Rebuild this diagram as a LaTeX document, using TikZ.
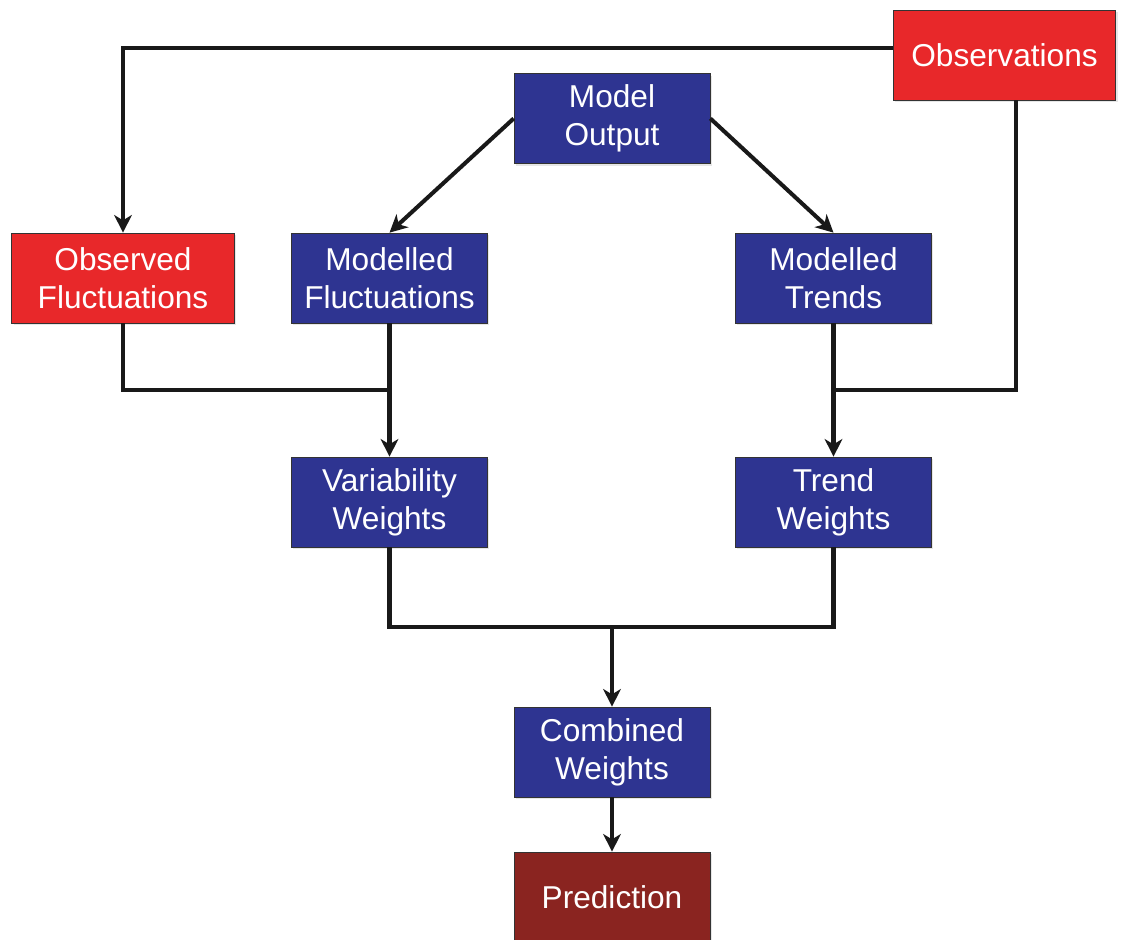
\documentclass[tikz,border=0pt]{standalone}
\usepackage{fontspec}
\setmainfont{Liberation Sans}
\usetikzlibrary{arrows.meta}
\usetikzlibrary{shadows}
\definecolor{boxblue}{RGB}{46,52,145}
\definecolor{boxred}{RGB}{232,40,42}
\definecolor{boxdark}{RGB}{138,36,32}

\begin{document}
\begin{tikzpicture}[x=0.02cm, y=-0.02cm,
    every node/.style={draw=black!80, thin, text=white, align=center,
      minimum width=3.92cm, minimum height=1.8cm, inner sep=0pt,
      font=\fontsize{18}{21.5}\selectfont,
      drop shadow={opacity=0.2, shadow xshift=1pt, shadow yshift=-1.2pt}},
    modbox/.style={fill=boxblue},
    obsbox/.style={fill=boxred, minimum width=4.45cm},
    predbox/.style={fill=boxdark},
    link/.style={line width=2.3pt, black!90},
    arr/.style={link, -{Stealth[length=10pt, width=10pt, inset=3pt]}}]
  \useasboundingbox (0,0) rectangle (1121,939);

  \node[obsbox] (obs) at (1004.5,55) {Observations};
  \node[modbox] (mo) at (612,118.5) {Model\\Output};
  \node[obsbox] (obsfl) at (123,278) {Observed\\Fluctuations};
  \node[modbox] (mfl) at (389.5,278) {Modelled\\Fluctuations};
  \node[modbox] (mtr) at (833.5,278) {Modelled\\Trends};
  \node[modbox] (vw) at (389.5,502) {Variability\\Weights};
  \node[modbox] (tw) at (833.5,502) {Trend\\Weights};
  \node[modbox] (cw) at (612,752) {Combined\\Weights};
  \node[predbox] (pred) at (612,897) {Prediction};

  \coordinate (vjoin) at (389.5,390);
  \coordinate (tjoin) at (833.5,390);
  \coordinate (cjoin) at (612,627);

  \draw[arr] ([yshift=0.14cm]obs.west) -| (obsfl.north);
  \draw[link] ([xshift=0.23cm]obs.south) |- (tjoin);
  \draw[arr] (mo.west) -- (mfl.north);
  \draw[arr] (mo.east) -- (mtr.north);
  \draw[link] (obsfl.south) |- (vjoin);
  \foreach \a/\b in {mfl/vw, mtr/tw, cjoin/cw, cw/pred}
    \draw[arr] (\a) -- (\b);
  \draw[link] (vw.south) |- (cjoin) -| (tw.south);
\end{tikzpicture}
\end{document}
